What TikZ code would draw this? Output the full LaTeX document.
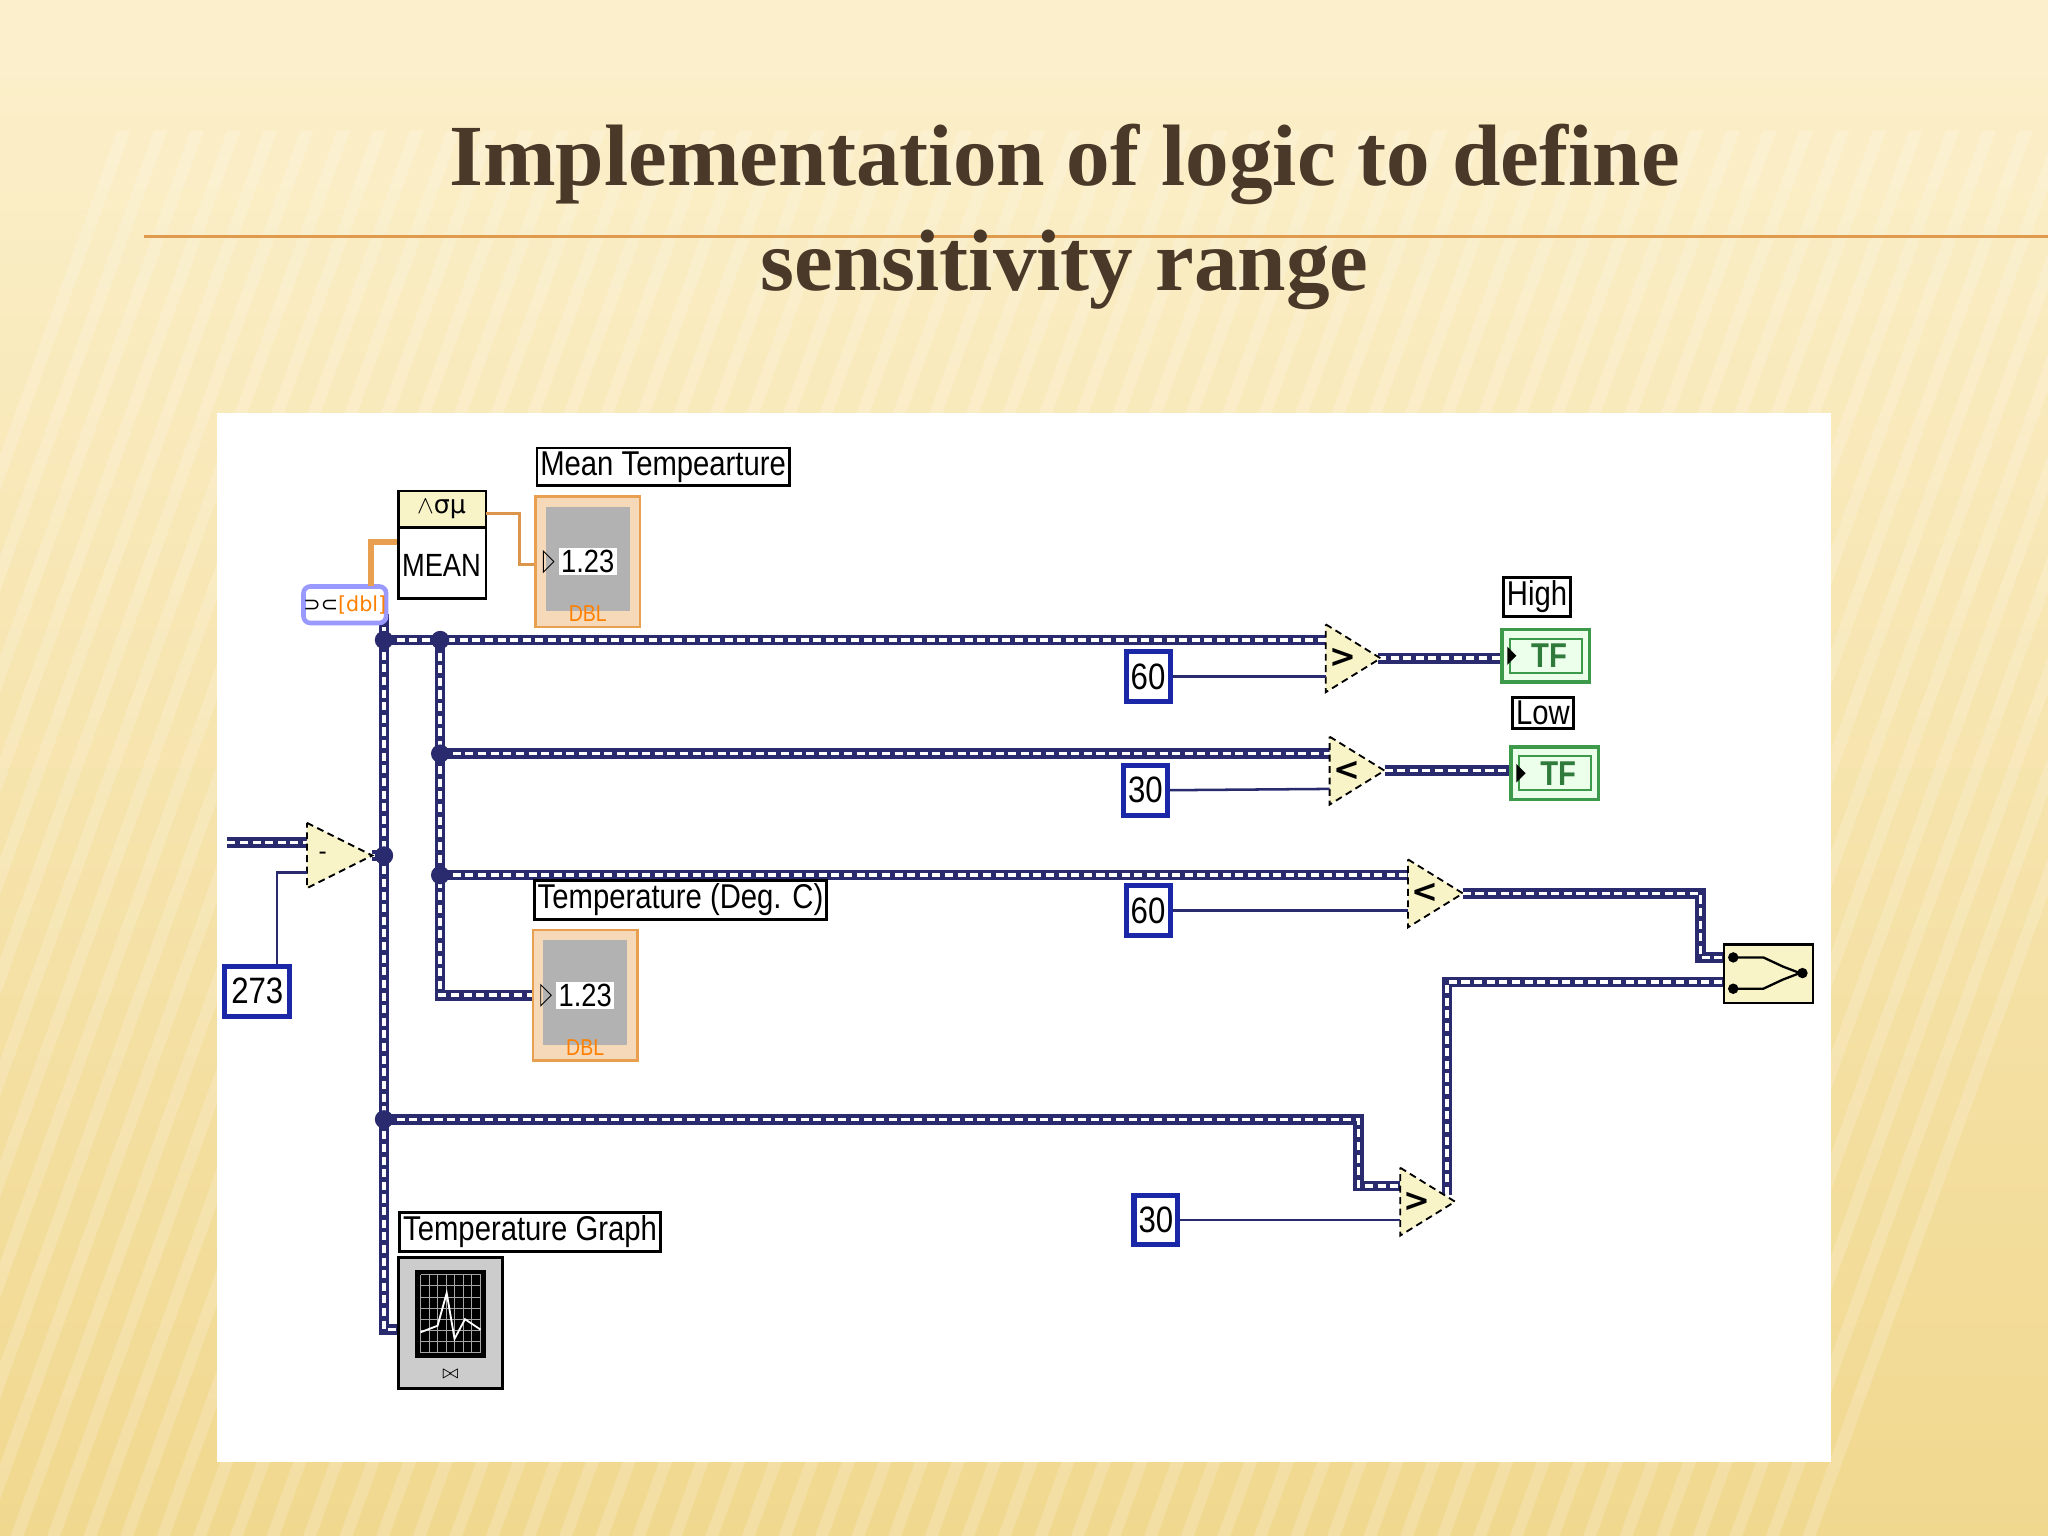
\documentclass[tikz,border=0pt]{standalone}
\usepackage{fontspec}
\setmainfont{Liberation Serif}
\newfontfamily\lvfont{Liberation Sans}[FakeStretch=0.85]
\newfontfamily\dvfont{DejaVu Sans}
\begin{document}
\begin{tikzpicture}[x=0.02cm,y=-0.02cm,
  wire/.style={line width=4.6pt,draw=navy},
  wiretop/.style={line width=1.6pt,draw=white,dash pattern=on 3.5pt off 2pt},
  thin/.style={line width=1.1pt,draw=navy},
  lbl/.style={draw=black,line width=1.2pt,fill=white,font=\lvfont\fontsize{15}{17}\selectfont,inner sep=1.5pt,anchor=north west},
  cst/.style={draw=blueC,line width=2.2pt,fill=white,font=\lvfont\fontsize{16}{18}\selectfont,inner sep=2pt,minimum height=0.76cm},
  tri/.style={draw=black,densely dashed,fill=triY,line width=0.8pt},
  jn/.style={circle,fill=navy,inner sep=0pt,minimum size=8pt}]
\definecolor{navy}{HTML}{2A2A6E}
\definecolor{blueC}{HTML}{1A28A8}
\definecolor{triY}{HTML}{F8F4C8}
\definecolor{bgA}{HTML}{FCF0CC}
\definecolor{bgB}{HTML}{F1D88F}
\definecolor{titleC}{HTML}{4A3828}
\definecolor{orW}{HTML}{E8A050}
\definecolor{tfG}{HTML}{3C9A4A}
% background
\useasboundingbox (0,0) rectangle (1568,1176);
\shade[top color=bgA,bottom color=bgB] (0,0) rectangle (1568,1176);
\fill[bgA] (0,0) rectangle (1568,60);
\foreach \i in {0,...,60}{
  \fill[white,opacity=0.18] (\i*28-300,1176) -- (\i*28-290,1176) -- (\i*28+100,100) -- (\i*28+90,100) -- cycle;
}
\draw[orW!80!brown,line width=1pt] (110,181) -- (1568,181);
\node[text=titleC,font=\bfseries\fontsize{38}{46}\selectfont,align=center] (title) at (815,166) {Implementation of logic to define\\sensitivity range};
% panel
\fill[white] (166,316) rectangle (1402,1119);

% wires (thick)
\coordinate (jA) at (294,490);
\coordinate (jB) at (337,490);
\coordinate (jC) at (337,577);
\coordinate (jD) at (337,670);
\coordinate (jE) at (294,655);
\coordinate (jF) at (294,857);
\foreach \p in {
 {(174,645) -- (235,645)},
 {(285,655) -- (294,655)},
 {(294,470) -- (294,1018) -- (305,1018)},
 {(294,490) -- (1015,490)},
 {(337,490) -- (337,762) -- (410,762)},
 {(337,577) -- (1018,577)},
 {(337,670) -- (1078,670)},
 {(294,857) -- (1040,857) -- (1040,908) -- (1072,908)},
 {(1055,504) -- (1150,504)},
 {(1060,590) -- (1157,590)},
 {(1120,684) -- (1302,684) -- (1302,733) -- (1320,733)},
 {(1108,915) -- (1108,752) -- (1320,752)}}{
  \draw[wire] \p; \draw[wiretop] \p;
}
\foreach \j in {jA,jB,jC,jD,jE,jF} \node[jn] at (\j) {};

% subtract
\draw[tri] (235,630) -- (285,655) -- (235,680) -- cycle;
\node[font=\bfseries] (sub) at (247,655) {-};
\node[cst,minimum width=1cm] (k273) at (197,759) {273};
\draw[thin] (212,738) |- (235,668);

% build array & mean
\node[draw=blue!40,line width=2pt,fill=white,rounded corners=3pt,minimum width=1.08cm,minimum height=0.56cm,font=\fontsize{9}{10}\selectfont,inner sep=0pt] (ba) at (264,463) {\dvfont ⊃⊂\textcolor{orange}{[dbl]}};
\draw[orW,line width=2.5pt] (284,449) |- (305,415);
\fill[white] (305,376) rectangle (372,458);
\fill[triY] (305,376) rectangle (372,404);
\draw[black,line width=1.2pt] (305,376) rectangle (372,458) (305,404) -- (372,404);
\node[font=\dvfont\fontsize{11}{12}\selectfont] (mean) at (338,390) {$\wedge$σμ};
\node[font=\lvfont\fontsize{14}{16}\selectfont] (meantxt) at (338,433) {MEAN};
\draw[orW!70!brown,line width=1.2pt] (372,393) -- (398,393) |- (415,432);
% indicators
\foreach \nm/\x/\y in {ind1/410/380,ind2/408/712}{
  \fill[orW!40] (\x,\y) rectangle ++(80,100);
  \draw[orW,line width=1.2pt] (\x,\y) rectangle ++(80,100);
  \fill[gray!60] (\x+8,\y+8) rectangle ++(64,80);
  \node[fill=white,font=\lvfont\fontsize{14}{15}\selectfont,inner sep=1pt] (\nm) at (\x+40,\y+50) {1.23};
  \draw[black] (\x+6,\y+42) -- (\x+14,\y+50) -- (\x+6,\y+58) -- cycle;
  \node[text=orange,font=\lvfont\fontsize{10}{11}\selectfont,inner sep=0pt] at (\x+40,\y+90) {DBL};
}
\node[lbl] (lmean) at (410,342) {Mean Tempearture};
\node[lbl] (ltemp) at (408,673) {Temperature (Deg. C)};

% comparators
\foreach \nm/\x/\y/\s in {c1/1015/504/>,c2/1018/590/<,c3/1078/684/<,c4/1072/920/>}{
  \draw[tri] (\x,\y-26) -- (\x+42,\y) -- (\x,\y+26) -- cycle;
  \node[font=\dvfont\bfseries\fontsize{14}{14}\selectfont,inner sep=0pt] (\nm) at (\x+13,\y) {\s};
}
\node[cst] (k60a) at (879,518) {60};
\node[cst] (k30a) at (877,605) {30};
\node[cst] (k60b) at (879,697) {60};
\node[cst] (k30b) at (885,934) {30};
\draw[thin] (k60a.east) -- (1015,518);
\draw[thin] (k30a.east) -- (1018,604);
\draw[thin] (k60b.east) -- (1078,697);
\draw[thin] (k30b.east) -- (1072,934);

% booleans
\foreach \nm/\x/\y in {tfh/1150/482,tfl/1157/572}{
  \fill[green!8] (\x,\y) rectangle ++(67,40);
  \draw[tfG,line width=1.5pt] (\x,\y) rectangle ++(67,40);
  \draw[tfG,line width=1pt] (\x+6,\y+7) rectangle ++(55,26);
  \fill[black] (\x+4,\y+13) -- (\x+11,\y+20) -- (\x+4,\y+27) -- cycle;
  \node[text=tfG!80!black,font=\lvfont\bfseries\fontsize{15}{16}\selectfont] (\nm) at (\x+36,\y+20) {TF};
}
\node[lbl] (lhigh) at (1150,441) {High};
\node[lbl] (llow) at (1157,533) {Low};

% compound and
\draw[black,line width=1.2pt,fill=triY] (1320,723) rectangle (1388,768);
\draw[black,line width=1pt] (1327,733) -- (1350,733) -- (1365,740) -- (1378,745) (1327,757) -- (1350,757) -- (1365,750) -- (1378,745);
\fill[black] (1327,733) circle (4) (1327,757) circle (4) (1380,745) circle (4);

% graph
\node[lbl] (lgraph) at (305,927) {Temperature Graph};
\fill[gray!40] (305,963) rectangle (385,1063);
\draw[black,line width=1.2pt] (305,963) rectangle (385,1063);
\fill[black] (318,972) rectangle (372,1040);
\foreach \g in {0,...,7}{
  \draw[gray!70,line width=0.4pt] (322+\g*6.5,976) -- (322+\g*6.5,1036);
  \draw[gray!70,line width=0.4pt] (322,976+\g*8.5) -- (368,976+\g*8.5);
}
\draw[white,line width=0.8pt] (322,1020) -- (335,1015) -- (342,990) -- (348,1025) -- (356,1010) -- (368,1018);
\node[font=\fontsize{8}{8}\selectfont] at (345,1052) {$\bowtie$};
\end{tikzpicture}
\end{document}
